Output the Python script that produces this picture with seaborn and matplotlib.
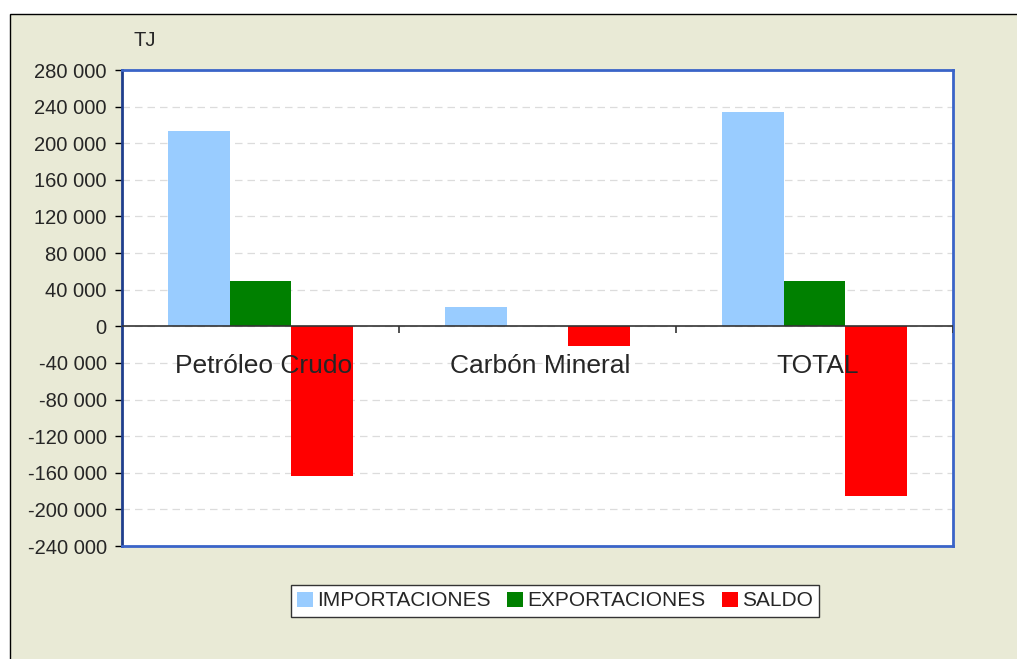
import pandas as pd
import matplotlib.pyplot as plt
import seaborn as sns
from matplotlib.patches import Rectangle
from matplotlib.ticker import FuncFormatter, MultipleLocator

# Data (TJ)
categorias = ['Petróleo Crudo', 'Carbón Mineral', 'TOTAL']
series = ['IMPORTACIONES', 'EXPORTACIONES', 'SALDO']
importaciones = [213000, 21000, 234500]
exportaciones = [50000, 0, 50000]
saldo = [-164000, -21500, -185000]
colores = ['#99CCFF', '#008000', '#FF0000']

df = pd.DataFrame({
    'categoria': categorias * 3,
    'serie': [s for s in series for _ in categorias],
    'valor': importaciones + exportaciones + saldo,
})

sns.set_style('white')
plt.rcParams['font.family'] = ['Liberation Sans', 'DejaVu Sans']

fig = plt.figure(figsize=(10.17, 6.59), dpi=100)
fig.patch.set_facecolor('white')
# beige chart area with thin black border
fig.patches.append(Rectangle((10 / 1017, -0.05), 1.2, 1 - 14 / 659 + 0.05,
                             transform=fig.transFigure, facecolor='#E9EAD6',
                             edgecolor='black', linewidth=1, zorder=-10))

ax = fig.add_axes([122 / 1017, 1 - 546 / 659, (953 - 122) / 1017, (546 - 70) / 659])
ax.set_facecolor('white')

sns.barplot(data=df, x='categoria', y='valor', hue='serie', order=categorias,
            hue_order=series, palette=colores, width=0.67, saturation=1,
            linewidth=0, ax=ax, legend=True)

ax.set_ylim(-240000, 280000)
ax.set_xlim(-0.5, 2.5)
ax.yaxis.set_major_locator(MultipleLocator(40000))
ax.yaxis.set_major_formatter(FuncFormatter(lambda v, p: f'{int(v):,}'.replace(',', ' ')))
ax.grid(axis='y', color='#DCDCDC', linestyle=(0, (6, 4)), linewidth=0.9)
ax.set_axisbelow(True)
ax.tick_params(axis='y', left=True, length=5, width=1, color='black',
               labelsize=14.5, pad=6)
ax.set_xticks([])
ax.set_xlabel('')
ax.set_ylabel('')

for s in ax.spines.values():
    s.set_color('#3A64C8')
    s.set_linewidth(2)
ax.spines['left'].set_color('#1F3E8C')

# zero line with category separators
ax.axhline(0, color='#333333', linewidth=1.2, zorder=3)
ax.vlines([0.5, 1.5, 2.5], -7000, 0, color='#333333', linewidth=1.2, zorder=3)

for i, c in enumerate(categorias):
    ax.text(i + 0.01, -43000, c, ha='center', va='center', fontsize=19, zorder=4)

fig.text(145 / 1017, 1 - 40 / 659, 'TJ', ha='center', va='center', fontsize=14.5)

leg = ax.legend(loc='center', bbox_to_anchor=(555 / 1017, 1 - 601 / 659),
                bbox_transform=fig.transFigure, ncol=3, frameon=True,
                fancybox=False, fontsize=15, handlelength=0.75, handleheight=0.75,
                handletextpad=0.2, columnspacing=0.8, borderpad=0.3,
                framealpha=1)
leg.get_frame().set_facecolor('white')
leg.get_frame().set_edgecolor('#333333')
leg.get_frame().set_linewidth(1)

fig.savefig('out.png', dpi=100, facecolor=fig.get_facecolor())
